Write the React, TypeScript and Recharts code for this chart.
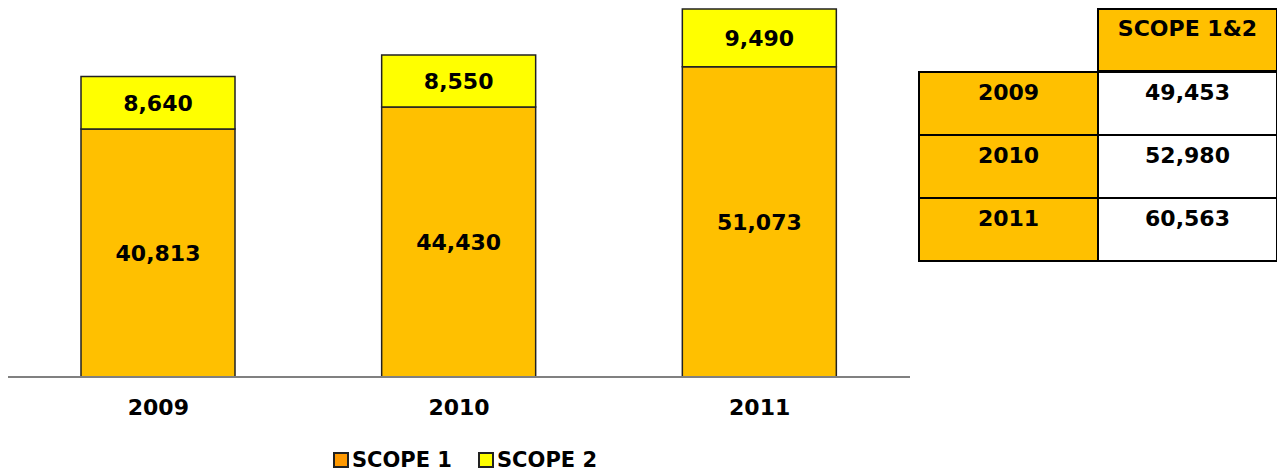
import React from 'react';
import { BarChart, Bar, XAxis, YAxis, LabelList, Legend } from 'recharts';

const years = ['2009', '2010', '2011'];
const scope1 = [40813, 44430, 51073];
const scope2 = [8640, 8550, 9490];
const totals = [49453, 52980, 60563];

const chartData = years.map((year, i) => ({ year, scope1: scope1[i], scope2: scope2[i] }));

const FONT = '"DejaVu Sans", Verdana, sans-serif';
const fmt = (v: any) => Number(v).toLocaleString('en-US');

const LegendContent = () => (
  <div style={{ display: 'flex', justifyContent: 'center', gap: 26, fontFamily: FONT, fontWeight: 'bold', fontSize: 21, height: 52, boxSizing: 'border-box', alignItems: 'center', paddingLeft: 12, paddingTop: 26 }}>
    {[
      { name: 'SCOPE 1', color: '#FF9900' },
      { name: 'SCOPE 2', color: '#FFFF00' },
    ].map((d) => (
      <div key={d.name} style={{ display: 'flex', alignItems: 'center', gap: 3 }}>
        <span style={{ width: 12, height: 12, background: d.color, border: '2px solid #222', display: 'inline-block' }} />
        <span>{d.name}</span>
      </div>
    ))}
  </div>
);

// table cell (root coordinates), neighbours overlap their 2px borders
const Cell = ({ col, row, bg, text }: { col: number; row: number; bg: string; text?: string }) => (
  <div
    style={{
      position: 'absolute',
      left: 910 + col * 179,
      top: row * 63,
      width: 181,
      height: row === 0 ? 64 : 65,
      boxSizing: 'border-box',
      border: '2px solid #000',
      background: bg,
      textAlign: 'center',
      paddingTop: row === 0 ? 6 : 7,
      fontSize: 22,
      fontWeight: 'bold',
      fontFamily: FONT,
    }}
  >
    {text}
  </div>
);

export default function App() {
  return (
    <div style={{ position: 'relative', width: 1269, height: 465, fontFamily: FONT }}>
      <BarChart width={902} height={465} data={chartData} margin={{ top: 1, right: 0, left: 0, bottom: 0 }} barCategoryGap={0}>
        <XAxis
          dataKey="year"
          axisLine={{ stroke: '#808080', strokeWidth: 2 }}
          tickLine={false}
          height={44}
          tick={{ fill: '#000', fontSize: 22, fontWeight: 'bold', fontFamily: FONT, dy: 14 }}
        />
        <YAxis hide domain={[0, 'dataMax']} />
        <Legend verticalAlign="bottom" content={<LegendContent />} />
        <Bar dataKey="scope1" name="SCOPE 1" stackId="a" fill="#FFC000" stroke="#222" strokeWidth={1.5} barSize={154} isAnimationActive={false}>
          <LabelList dataKey="scope1" position="center" formatter={fmt} fill="#000" fontSize={22} fontWeight="bold" fontFamily={FONT} />
        </Bar>
        <Bar dataKey="scope2" name="SCOPE 2" stackId="a" fill="#FFFF00" stroke="#222" strokeWidth={1.5} barSize={154} isAnimationActive={false}>
          <LabelList dataKey="scope2" position="center" formatter={fmt} fill="#000" fontSize={22} fontWeight="bold" fontFamily={FONT} />
        </Bar>
      </BarChart>
      <Cell col={1} row={0} bg="#FFC000" text="SCOPE 1&2" />
      {years.map((y, i) => (
        <React.Fragment key={y}>
          <Cell col={0} row={i + 1} bg="#FFC000" text={y} />
          <Cell col={1} row={i + 1} bg="#fff" text={fmt(totals[i])} />
        </React.Fragment>
      ))}
    </div>
  );
}
